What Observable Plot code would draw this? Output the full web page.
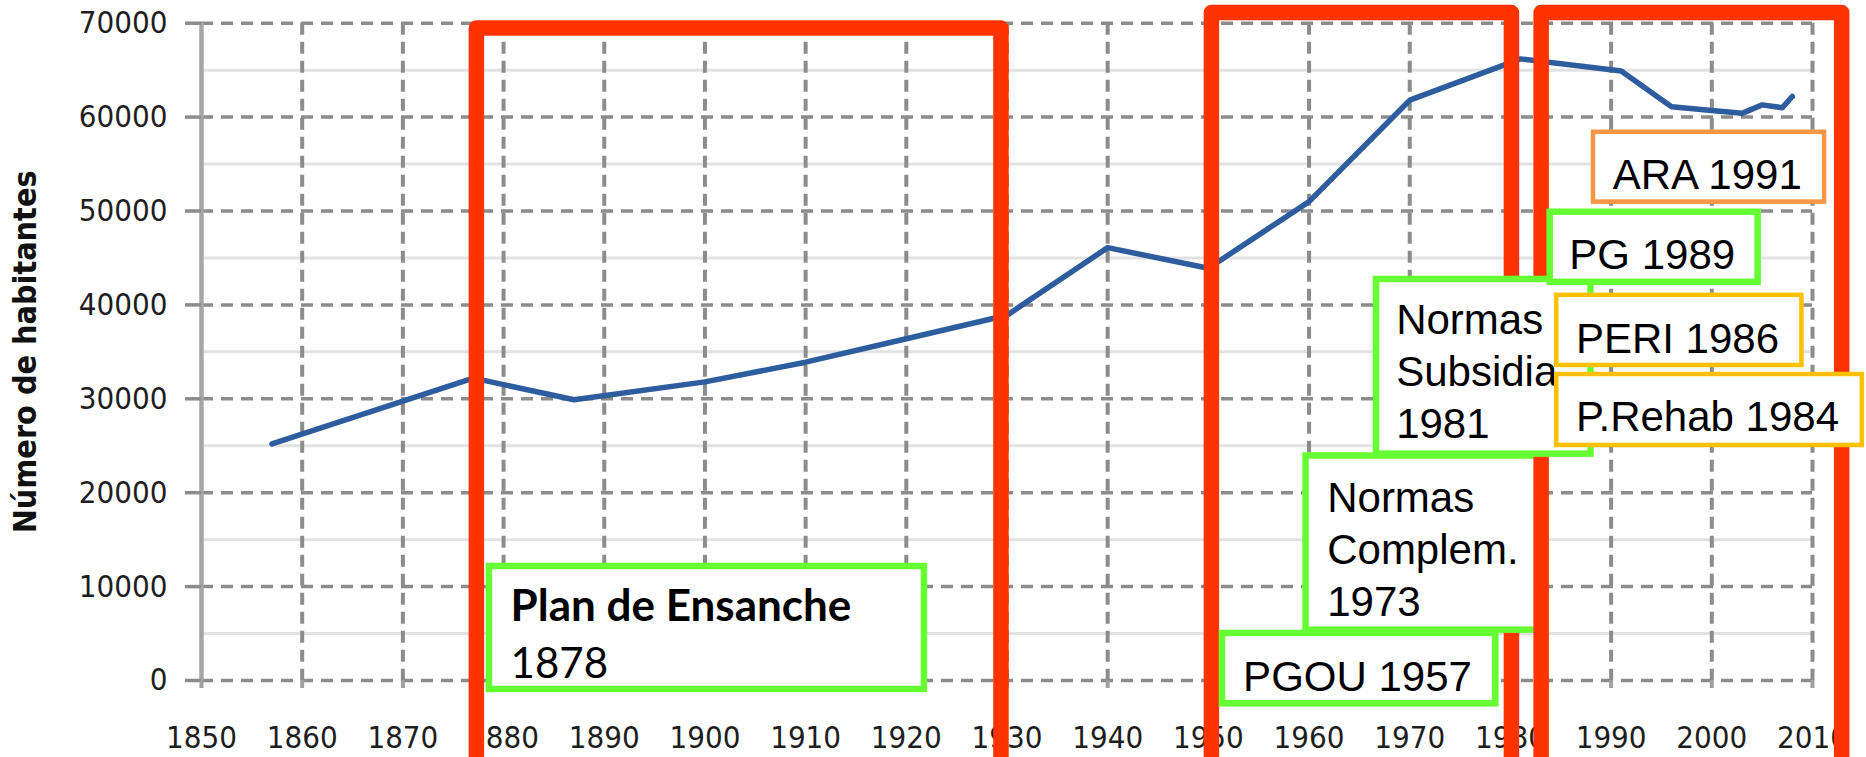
<!DOCTYPE html>
<html>
<head>
<meta charset="utf-8">
<script src="https://cdn.jsdelivr.net/npm/d3@7"></script>
<script src="https://cdn.jsdelivr.net/npm/@observablehq/plot@0.6"></script>
<style>
  html, body { margin: 0; padding: 0; background: #fff; }
  #chart { width: 1866px; height: 757px; overflow: hidden; }
  #chart svg { overflow: hidden; display: block; }
</style>
</head>
<body>
<div id="chart"></div>
<script>
// ---- data ----
const years = [1857, 1877, 1887, 1900, 1910, 1920, 1930, 1940, 1950, 1960, 1970, 1981, 1991, 1996, 2000, 2003, 2005, 2007, 2008];
const population = [25200, 32200, 29900, 31800, 33900, 36400, 38900, 46100, 43900, 51000, 61800, 66200, 64900, 61100, 60700, 60400, 61300, 61000, 62200];

const xTicks = [1850, 1860, 1870, 1880, 1890, 1900, 1910, 1920, 1930, 1940, 1950, 1960, 1970, 1980, 1990, 2000, 2010];
const xGrid = [1860, 1870, 1880, 1890, 1900, 1910, 1920, 1930, 1940, 1950, 1960, 1970, 1980, 1990, 2000, 2010];
const yTicks = [0, 10000, 20000, 30000, 40000, 50000, 60000, 70000];
const yMinor = [5000, 15000, 25000, 35000, 45000, 55000, 65000];
const yTitle = "Número de habitantes";

// red period frames (years, population units)
const frameStart = [1877.3, 1950.3, 1983.05];
const frameEnd = [1929.4, 1980.1, 2012.9];
const frameTop = [69500, 71150, 71150];
const frameBottom = [-12800, -12800, -12800];

// annotation boxes (years, population units)
const boxLabels = ["1878", "PGOU 1957", "Normas\nComplem.\n1973", "Normas\nSubsidia\n1981", "PG 1989", "ARA 1991", "PERI 1986", "P.Rehab 1984"];
const boxBold = ["Plan de Ensanche", "", "", "", "", "", "", ""];
const boxX1 = [1878.6, 1951.4, 1959.7, 1966.7, 1983.95, 1988.25, 1984.6, 1984.6];
const boxX2 = [1921.8, 1978.55, 1983.1, 1988.0, 2004.6, 2011.2, 2008.95, 2014.95];
const boxTop = [12140, 5005, 23910, 42710, 49870, 58380, 41020, 32590];
const boxBottom = [-960, -2480, 5360, 24110, 42410, 50950, 33550, 25030];
const textX = [1880.7, 1953.45, 1961.8, 1968.65, 1985.85, 1990.15, 1986.5, 1986.5];
const textY = [3490, 2770, 21830, 40790, 47710, 56280, 38820, 30460];
const boldY = [9710, 0, 0, 0, 0, 0, 0, 0];
const boxKind = ["green", "green", "green", "green", "green", "orange", "gold", "gold"];

const series = years.map((y, i) => ({year: y, pop: population[i]}));
const frames = frameStart.map((s, i) => ({id: i, s, e: frameEnd[i], t: frameTop[i], b: frameBottom[i]}));
const boxes = boxLabels.map((t, i) => ({
  text: t, bold: boxBold[i], x1: boxX1[i], x2: boxX2[i], y1: boxTop[i], y2: boxBottom[i],
  tx: textX[i], ty: textY[i], by: boldY[i], kind: boxKind[i]
}));

// ---- styles ----
const RED = "#ff3300";
const colors = {green: "#66ff33", orange: "#f79646", gold: "#ffc000"};
const widths = {green: 6.5, orange: 4.5, gold: 4.5};
const axisFont = "'DejaVu Sans Condensed', 'DejaVu Sans', Verdana, sans-serif";
const boxFont = "'Liberation Sans', Arial, sans-serif";
const calFont = "Lato, 'Open Sans', sans-serif";

function frameMark(f) {
  const pts = [
    {x: f.s, y: f.b}, {x: f.s, y: f.t}, {x: f.e, y: f.t}, {x: f.e, y: f.b}
  ];
  return Plot.line(pts, {x: "x", y: "y", stroke: RED, strokeWidth: 15.5, strokeLinejoin: "round", strokeLinecap: "butt", clip: false});
}

function boxMarks(b) {
  const c = colors[b.kind], w = widths[b.kind];
  const m = [
    Plot.rect([b], {x1: "x1", x2: "x2", y1: "y1", y2: "y2", fill: "white", stroke: c, strokeWidth: w, clip: false})
  ];
  if (b.bold) {
    m.push(Plot.text([b], {x: "tx", y: "by", text: "bold", textAnchor: "start", lineAnchor: "top",
      fontFamily: calFont, fontWeight: "bold", fontSize: 44, fill: "black", clip: false}));
    m.push(Plot.text([b], {x: "tx", y: "ty", text: "text", textAnchor: "start", lineAnchor: "top",
      fontFamily: calFont, fontSize: 42, fill: "black", clip: false}));
  } else {
    m.push(Plot.text([b], {x: "tx", y: "ty", text: "text", textAnchor: "start", lineAnchor: "top",
      fontFamily: boxFont, fontSize: 42, lineHeight: 1.231, fill: "black", clip: false}));
  }
  return m;
}

const marks = [
  Plot.ruleY(yMinor, {stroke: "#e2e2e2", strokeWidth: 3}),
  Plot.ruleY(yTicks, {stroke: "#8c8c8c", strokeWidth: 3.5, strokeDasharray: "12,8"}),
  Plot.ruleX(xGrid, {y1: 70000, y2: 0, stroke: "#8c8c8c", strokeWidth: 4, strokeDasharray: "12,7"}),
  Plot.ruleX([1850], {y1: 70000, y2: 0, stroke: "#a6a6a6", strokeWidth: 4.5}),
  Plot.axisY({ticks: yTicks, tickFormat: "d", tickSize: 16, tickPadding: 18, stroke: "#8c8c8c", strokeWidth: 3.5,
    fill: "#1e1e1e", fontSize: 31, fontFamily: axisFont, label: null}),
  Plot.axisX({ticks: xTicks, tickFormat: "d", tickSize: 8, tickPadding: 37, stroke: "#a0a0a0", strokeWidth: 4,
    fill: "#1e1e1e", fontSize: 31, fontFamily: axisFont, label: null}),
  Plot.text([yTitle], {frameAnchor: "left", dx: -176, rotate: -90, textAnchor: "middle", lineAnchor: "middle",
    fontWeight: "bold", fontSize: 32, fontFamily: axisFont, fill: "#111", clip: false}),
  Plot.line(series, {x: "year", y: "pop", stroke: "#2d5d9f", strokeWidth: 5.5, strokeLinejoin: "round"}),
  frameMark(frames[0]),
  frameMark(frames[1]),
  ...boxMarks(boxes[0]),
  ...boxMarks(boxes[1]),
  ...boxMarks(boxes[2]),
  frameMark(frames[2]),
  ...boxMarks(boxes[3]),
  ...boxMarks(boxes[4]),
  ...boxMarks(boxes[5]),
  ...boxMarks(boxes[6]),
  ...boxMarks(boxes[7])
];

const chart = Plot.plot({
  width: 1866,
  height: 757,
  marginLeft: 201,
  marginRight: 54,
  marginTop: 22.7,
  marginBottom: 77,
  style: {background: "white", fontFamily: axisFont},
  x: {domain: [1850, 2010], axis: null},
  y: {domain: [0, 70000], axis: null},
  marks
});
document.getElementById("chart").appendChild(chart);
</script>
</body>
</html>
